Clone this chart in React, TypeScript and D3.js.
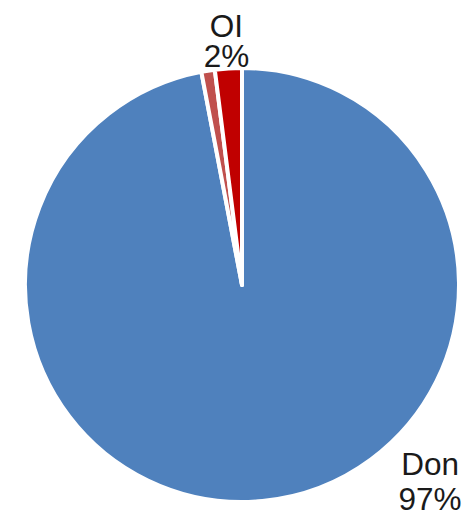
import React from "react";
import * as d3 from "d3";

const categories = ["Don", "", "OI"];
const values = [97, 1, 2];
const showLabel = [true, false, true];
const colors = ["#4f81bd", "#c0504d", "#c00000"];

export default function App() {
  const W = 466, H = 512;
  const cx = 242, cy = 285, r = 217;
  const total = d3.sum(values);
  const pie = d3.pie<number>().sort(null).startAngle(0).endAngle(2 * Math.PI);
  const arcs = pie(values);
  const arcGen = d3.arc<d3.PieArcDatum<number>>().innerRadius(0).outerRadius(r);
  const fmt = (v: number) => `${Math.round((v / total) * 100)}%`;
  return (
    <svg width={W} height={H} style={{ position: "absolute", left: 0, top: 0 }}>
      <g transform={`translate(${cx},${cy})`}>
        {arcs.map((a, i) => (
          <path key={i} d={arcGen(a) || ""} fill={colors[i]} stroke="#fff" strokeWidth={4} strokeLinejoin="round" />
        ))}
        {arcs.map((a, i) => {
          if (!showLabel[i]) return null;
          let ang: number, k: number, lh: number;
          if (i === 0) {
            ang = (135.3 * Math.PI) / 180;
            k = 1.232;
            lh = 35;
          } else {
            ang = (a.startAngle + a.endAngle) / 2;
            k = 1.143;
            lh = 30;
          }
          const x = Math.sin(ang) * r * k;
          const y = -Math.cos(ang) * r * k;
          return (
            <text key={"t" + i} textAnchor="middle" fontFamily="Liberation Sans, Arial, sans-serif" fontSize={31.5} fill="#1a1a1a">
              <tspan x={x} y={y}>{categories[i]}</tspan>
              <tspan x={x} y={y + lh}>{fmt(values[i])}</tspan>
            </text>
          );
        })}
      </g>
    </svg>
  );
}
